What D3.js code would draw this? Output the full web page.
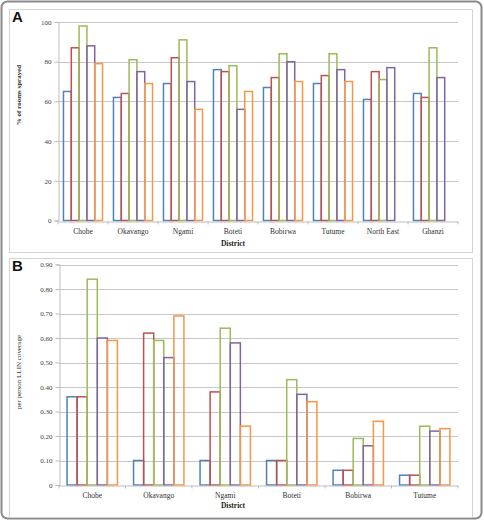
<!DOCTYPE html>
<html><head><meta charset="utf-8">
<script src="https://cdn.jsdelivr.net/npm/d3@7"></script>
<style>body{margin:0;background:#fff}svg{display:block}</style>
</head><body>
<svg id="c" width="484" height="520"></svg>
<script>
const districtsA = ["Chobe","Okavango","Ngami","Boteti","Bobirwa","Tutume","North East","Ghanzi"];
const sprayS1 = [65,62,69,76,67,69,61,64];
const sprayS2 = [87,64,82,75,72,73,75,62];
const sprayS3 = [98,81,91,78,84,84,71,87];
const sprayS4 = [88,75,70,56,80,76,77,72];
const sprayS5 = [79,69,56,65,70,70,null,null];
const ticksA = [0,20,40,60,80,100];

const districtsB = ["Chobe","Okavango","Ngami","Boteti","Bobirwa","Tutume"];
const llinS1 = [0.36,0.10,0.10,0.10,0.06,0.04];
const llinS2 = [0.36,0.62,0.38,0.10,0.06,0.04];
const llinS3 = [0.84,0.59,0.64,0.43,0.19,0.24];
const llinS4 = [0.60,0.52,0.58,0.37,0.16,0.22];
const llinS5 = [0.59,0.69,0.24,0.34,0.26,0.23];
const ticksB = [0,0.1,0.2,0.3,0.4,0.5,0.6,0.7,0.8,0.9];

const colors = ["#4F81BD","#C0504D","#9BBB59","#8064A2","#F79646"];
const serif = "'Liberation Serif','Times New Roman',serif";

const svg = d3.select("#c");
svg.append("rect").attr("x",1.5).attr("y",1.5).attr("width",480).attr("height",517)
  .attr("rx",6).attr("fill","#fff").attr("stroke","#8a8a8a").attr("stroke-width",2);
svg.append("rect").attr("x",9.5).attr("y",9.5).attr("width",463).attr("height",243)
  .attr("fill","#fff").attr("stroke","#d4d4d4").attr("stroke-width",1);
svg.append("rect").attr("x",9.5).attr("y",258.5).attr("width",463).attr("height",259)
  .attr("fill","#fff").attr("stroke","#d4d4d4").attr("stroke-width",1);

function panel(o){
  const g = svg.append("g");
  const x = d3.scaleBand().domain(o.cats).range([o.x0,458]).paddingInner(0).paddingOuter(0);
  const y = d3.scaleLinear().domain([0,o.max]).range([o.y0,o.y1]);
  const xs = d3.scaleBand().domain(d3.range(5)).range([0,x.bandwidth()]).paddingInner(0).paddingOuter(o.pad);
  g.append("g").selectAll("line").data(o.ticks.slice(1)).join("line")
    .attr("x1",o.x0).attr("x2",458).attr("y1",d=>Math.round(y(d))+0.5).attr("y2",d=>Math.round(y(d))+0.5)
    .attr("stroke","#c6c6c6").attr("stroke-width",1);
  const ya = g.append("g").attr("transform",`translate(${o.x0+0.5},0)`)
    .call(d3.axisLeft(y).tickValues(o.ticks).tickFormat(o.fmt).tickSize(4).tickPadding(3));
  ya.select(".domain").attr("stroke","#bdbdbd");
  ya.selectAll(".tick line").attr("stroke","#bdbdbd");
  ya.selectAll("text").attr("font-family",serif).attr("font-size",7).attr("fill","#404040");
  o.series.forEach((s,i)=>{
    g.append("g").selectAll("rect").data(s.map((v,j)=>({v,c:o.cats[j]})).filter(d=>d.v!=null)).join("rect")
      .attr("x",d=>x(d.c)+xs(i)).attr("width",xs.bandwidth())
      .attr("y",d=>y(d.v)).attr("height",d=>y(0)-y(d.v))
      .attr("fill","none").attr("stroke",colors[i]).attr("stroke-width",1.5);
  });
  const xa = g.append("g").attr("transform",`translate(0,${Math.round(y(0))+0.5})`)
    .call(d3.axisBottom(x).tickSize(0).tickPadding(7));
  xa.select(".domain").attr("stroke","#bdbdbd");
  xa.selectAll("text").attr("font-family",serif).attr("font-size",7.5).attr("fill","#303030");
  xa.append("g").selectAll("line").data(d3.range(o.cats.length+1)).join("line")
    .attr("x1",d=>o.x0+d*x.step()).attr("x2",d=>o.x0+d*x.step()).attr("y1",0).attr("y2",3)
    .attr("stroke","#bdbdbd");
  g.append("text").attr("x",233).attr("y",o.xt).attr("text-anchor","middle")
    .attr("font-family",serif).attr("font-size",7.5).attr("font-weight","bold").attr("fill","#222").text("District");
  g.append("text").attr("transform",`translate(21,${o.ytc}) rotate(-90)`).attr("text-anchor","middle")
    .attr("font-family",serif).attr("font-size",7).attr("font-weight",o.ybold?"bold":"normal").attr("fill","#303030").text(o.ytitle);
  g.append("text").attr("x",12).attr("y",o.ly).attr("font-family","'Liberation Sans',Arial,sans-serif")
    .attr("font-size",15).attr("font-weight","bold").attr("fill","#111").text(o.label);
}

panel({cats:districtsA, series:[sprayS1,sprayS2,sprayS3,sprayS4,sprayS5], max:100, y0:220.5, y1:22, x0:58,
  ticks:ticksA, fmt:d3.format("d"), pad:0.7, xt:246, ytc:95, ytitle:"% of rooms sprayed", ybold:true, label:"A", ly:22});
panel({cats:districtsB, series:[llinS1,llinS2,llinS3,llinS4,llinS5], max:0.9, y0:485, y1:264.5, x0:59,
  ticks:ticksB, fmt:d=>d===0?"0":d3.format(".2f")(d), pad:0.8, xt:508, ytc:372, ytitle:"per person LLIN coverage", ybold:false, label:"B", ly:271});
</script>
</body></html>
